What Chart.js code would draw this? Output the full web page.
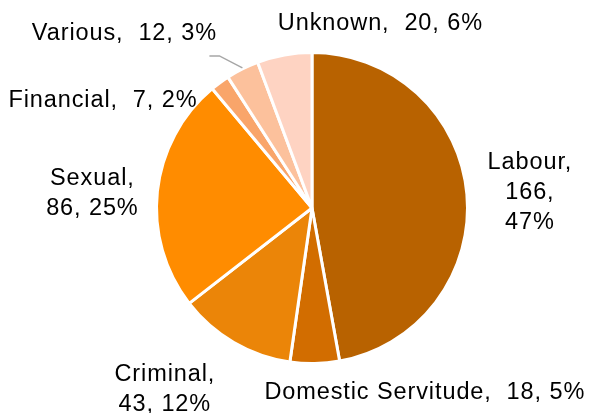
<!DOCTYPE html>
<html>
<head>
<meta charset="utf-8">
<script src="https://cdn.jsdelivr.net/npm/chart.js@4"></script>
<style>
  html, body { margin: 0; padding: 0; background: #fff; }
  #wrap { width: 593px; height: 413px; position: relative; }
</style>
</head>
<body>
<div id="wrap"><canvas id="myPieChart"></canvas></div>
<script>
// data
var categories = ["Labour", "Domestic Servitude", "Criminal", "Sexual", "Financial", "Various", "Unknown"];
var counts = [166, 18, 43, 86, 7, 12, 20];
var percents = ["47%", "5%", "12%", "25%", "2%", "3%", "6%"];
var sliceColors = ['#B86200', '#D26D00', '#EB8508', '#FF8C00', '#F9A56A', '#FCC19C', '#FED3C2'];

// label lines (how each label is broken up)
var labelLines = [
    [categories[0] + ",", counts[0] + ",", percents[0]],
    [categories[1] + ",  " + counts[1] + ", " + percents[1]],
    [categories[2] + ",", counts[2] + ", " + percents[2]],
    [categories[3] + ",", counts[3] + ", " + percents[3]],
    [categories[4] + ",  " + counts[4] + ", " + percents[4]],
    [categories[5] + ",  " + counts[5] + ", " + percents[5]],
    [categories[6] + ",  " + counts[6] + ", " + percents[6]]
];
// offset of label centre from the slice edge point (mid angle)
var labelNudge = [[63, -2], [110, 29], [-69, 47], [-65, 2], [-117, 18], [-118, -35], [96, -31]];

var labelPlugin = {
    id: 'outerLabels',
    afterDatasetsDraw: function (chart) {
        var ctx = chart.ctx;
        var meta = chart.getDatasetMeta(0);
        ctx.save();
        ctx.font = '23.5px "Liberation Sans", Arial, sans-serif';
        ctx.letterSpacing = '0.9px';
        ctx.fillStyle = '#000';
        ctx.textAlign = 'center';
        ctx.textBaseline = 'middle';
        meta.data.forEach(function (arc, i) {
            var mid = (arc.startAngle + arc.endAngle) / 2;
            var ex = arc.x + Math.cos(mid) * arc.outerRadius;
            var ey = arc.y + Math.sin(mid) * arc.outerRadius;
            var cx = ex + labelNudge[i][0];
            var cy = ey + labelNudge[i][1];
            var lines = labelLines[i];
            var lh = 30;
            lines.forEach(function (t, j) {
                ctx.fillText(t, cx, cy + (j - (lines.length - 1) / 2) * lh);
            });
            // leader line for the small "Various" slice
            if (i === 5) {
                ctx.strokeStyle = '#A6A6A6';
                ctx.lineWidth = 1.5;
                ctx.beginPath();
                ctx.moveTo(cx + 85, cy + 22);
                ctx.lineTo(cx + 95, cy + 22);
                ctx.lineTo(ex, ey - 1);
                ctx.stroke();
            }
        });
        ctx.restore();
    }
};

var ctx = document.getElementById("myPieChart");
var myPieChart = new Chart(ctx, {
    type: 'pie',
    data: {
        labels: categories,
        datasets: [{
            data: counts,
            backgroundColor: sliceColors,
            borderColor: '#fff',
            borderWidth: 3
        }]
    },
    options: {
        responsive: true,
        maintainAspectRatio: false,
        animation: false,
        layout: { padding: { top: 51, bottom: 48, left: 155, right: 124 } },
        plugins: {
            legend: { display: false },
            tooltip: { enabled: false }
        }
    },
    plugins: [labelPlugin]
});
</script>
</body>
</html>
